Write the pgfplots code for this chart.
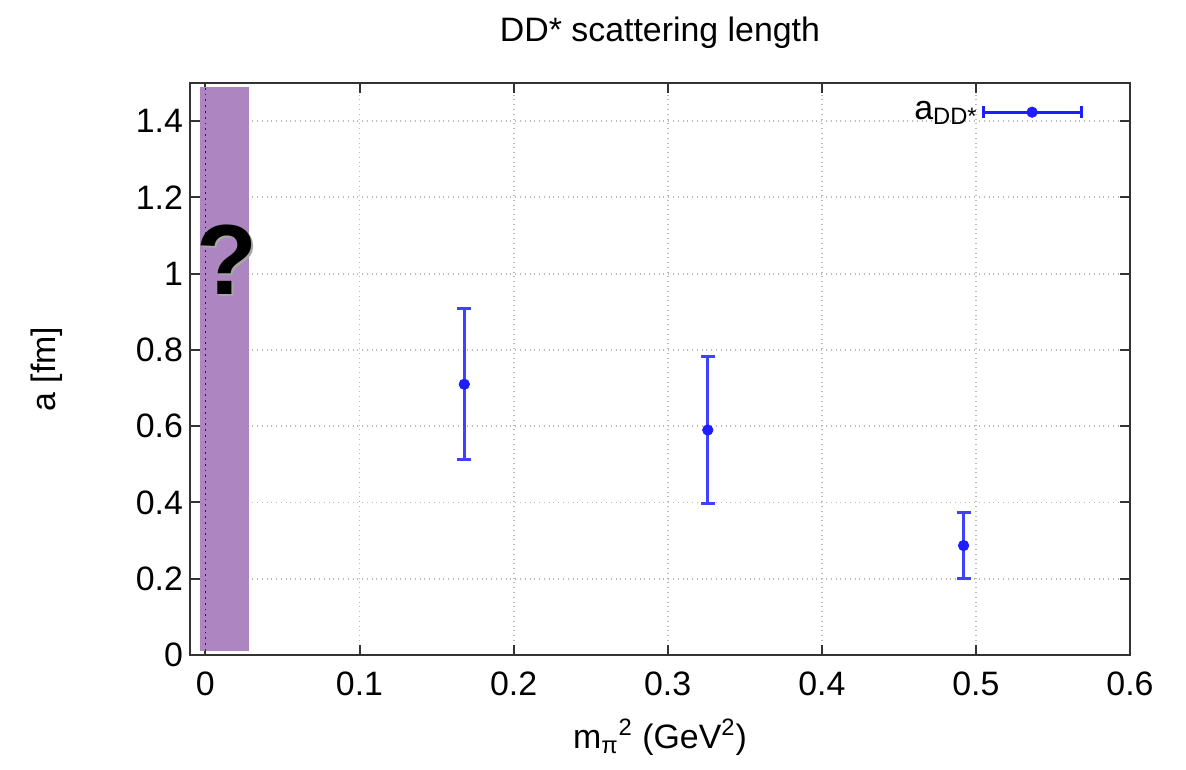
\documentclass[border=0pt]{standalone}
\usepackage{fontspec}
\setmainfont{Liberation Sans}
\usepackage{pgfplots}
\pgfplotsset{compat=1.18}
\definecolor{bandpurple}{RGB}{173,133,192}
\definecolor{ptblue}{RGB}{30,30,255}
\begin{document}
\begin{tikzpicture}
\begin{axis}[
  width=470bp, height=286bp, scale only axis,
  xmin=-0.01, xmax=0.6, ymin=0, ymax=1.5,
  xtick={0,0.1,0.2,0.3,0.4,0.5,0.6},
  ytick={0,0.2,0.4,0.6,0.8,1,1.2,1.4},
  /pgf/number format/assume math mode=true,
  tick label style={font=\fontsize{17}{20}\selectfont},
  xticklabel style={yshift=-5bp},
  grid=major,
  major grid style={gray!55, dotted, line width=0.9bp},
  axis line style={line width=1bp, black!80},
  major tick length=5bp,
  tick style={line width=1bp, black!80},
  clip=false,
  legend style={draw=none, fill=none, inner sep=0pt, at={(1,0.949)}, anchor=east, xshift=-23.5bp,
    font=\fontsize{17}{20}\selectfont},
  legend plot pos=right,
  legend cell align=right,
  legend image code/.code={
    \draw[line width=1.5bp, ptblue] (0bp,0bp) -- (49bp,0bp);
    \draw[line width=1.5bp, ptblue] (0bp,-3bp) -- (0bp,3bp);
    \draw[line width=1.5bp, ptblue] (49bp,-3bp) -- (49bp,3bp);
    \fill[ptblue] (24.5bp,0bp) circle (2.6bp);
  },
]
\addplot[fill=bandpurple, draw=none, forget plot] coordinates {
  (-0.0035,0.011) (0.0283,0.011) (0.0283,1.49) (-0.0035,1.49)} -- cycle;
\addplot[draw=purple!55!black, dotted, line width=0.9bp, forget plot] coordinates {(0,0.011) (0,1.49)};

\addplot[ptblue, mark=*, only marks, mark size=2.6bp,
  error bars/.cd, y dir=both, y explicit,
  error bar style={line width=1.5bp, ptblue!85},
  error mark options={rotate=90, mark size=3.5bp, line width=1.5bp, ptblue!85}]
  table[x=x, y=y, y error=e] {
x y e
0.168 0.710 0.198
0.326 0.590 0.192
0.492 0.287 0.086
};
\addlegendentry{a\textsubscript{DD*}}

\node[font=\fontsize{50}{56}\bfseries, text=black!35, anchor=center] at ([xshift=1.2bp,yshift=-1.2bp]axis cs:0.0137,1.037) {?};
\node[font=\fontsize{50}{56}\bfseries, text=black, anchor=center] at (axis cs:0.0137,1.037) {?};

\node[anchor=base, font=\fontsize{17}{20}\selectfont] at ([yshift=20.5bp]rel axis cs:0.5,1) {DD* scattering length};
\node[anchor=base, font=\fontsize{17}{20}\selectfont] at ([yshift=-46.5bp]rel axis cs:0.5,0) {m\textsubscript{π}\textsuperscript{2} (GeV\textsuperscript{2})};
\node[anchor=base, rotate=90, font=\fontsize{17}{20}\selectfont] at ([xshift=-67bp]rel axis cs:0,0.5) {a [fm]};

\path ([xshift=-95bp,yshift=-57.5bp]rel axis cs:0,0) rectangle ([xshift=28bp,yshift=41.5bp]rel axis cs:1,1);
\end{axis}
\end{tikzpicture}
\end{document}
